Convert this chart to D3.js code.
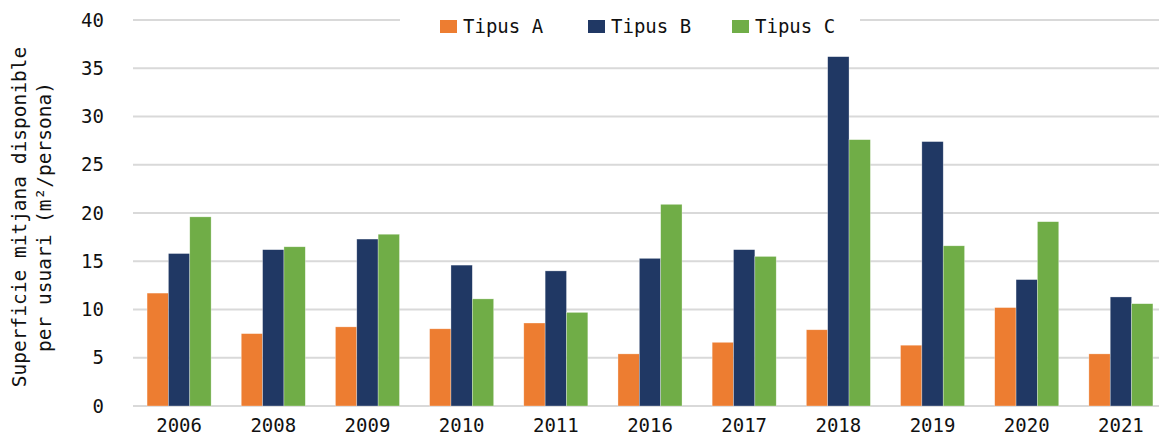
<!DOCTYPE html>
<html>
<head>
<meta charset="utf-8">
<title>Superficie mitjana disponible per usuari</title>
<style>
  body { margin: 0; background: #fff; }
  svg { display: block; font-family: "DejaVu Sans Mono", monospace; }
</style>
</head>
<body>
<div id="chart"></div>
<script src="https://d3js.org/d3.v7.min.js"></script>
<script>
// data
var years  = ["2006", "2008", "2009", "2010", "2011", "2016", "2017", "2018", "2019", "2020", "2021"];
var series = ["Tipus A", "Tipus B", "Tipus C"];
var tipusA = [11.7, 7.5, 8.2, 8.0, 8.6, 5.4, 6.6, 7.9, 6.3, 10.2, 5.4];
var tipusB = [15.8, 16.2, 17.3, 14.6, 14.0, 15.3, 16.2, 36.2, 27.4, 13.1, 11.3];
var tipusC = [19.6, 16.5, 17.8, 11.1, 9.7, 20.9, 15.5, 27.6, 16.6, 19.1, 10.6];
var yTicks = [0, 5, 10, 15, 20, 25, 30, 35, 40];
var colors = ["#ED7D31", "#203864", "#70AD47"];

var width = 1159, height = 436;
var values = [tipusA, tipusB, tipusC];

var svg = d3.select("#chart").append("svg")
    .attr("width", width)
    .attr("height", height);

var x = d3.scaleBand()
    .domain(years)
    .range([132, 1168])
    .paddingInner(0.32)
    .paddingOuter(0.16);

var xs = d3.scaleBand()
    .domain(series)
    .range([0, x.bandwidth()]);

var y = d3.scaleLinear()
    .domain([0, 40])
    .range([406, 20]);

// gridlines
svg.append("g")
    .selectAll("line")
    .data(yTicks)
    .join("line")
    .attr("x1", 133)
    .attr("x2", width)
    .attr("y1", function(d){ return y(d); })
    .attr("y2", function(d){ return y(d); })
    .attr("stroke", "#d9d9d9")
    .attr("stroke-width", 2);

// y tick labels
var yAxis = svg.append("g")
    .attr("transform", "translate(104,0)")
    .call(d3.axisLeft(y).tickValues(yTicks).tickSize(0).tickPadding(0));
yAxis.select(".domain").remove();
yAxis.selectAll("text")
    .attr("font-family", "DejaVu Sans Mono, monospace")
    .attr("font-size", 19)
    .attr("fill", "#111");

// x tick labels
var xAxis = svg.append("g")
    .attr("transform", "translate(0,414)")
    .call(d3.axisBottom(x).tickSize(0).tickPadding(5));
xAxis.select(".domain").remove();
xAxis.selectAll("text")
    .attr("font-family", "DejaVu Sans Mono, monospace")
    .attr("font-size", 19)
    .attr("fill", "#111");

// bars
var groups = svg.append("g")
    .selectAll("g")
    .data(years)
    .join("g")
    .attr("transform", function(d){ return "translate(" + x(d) + ",0)"; });

groups.selectAll("rect")
    .data(function(d, i){ return series.map(function(s, j){ return {s: s, j: j, v: values[j][i]}; }); })
    .join("rect")
    .attr("x", function(d){ return xs(d.s); })
    .attr("width", xs.bandwidth())
    .attr("y", function(d){ return y(d.v); })
    .attr("height", function(d){ return y(0) - y(d.v); })
    .attr("fill", function(d){ return colors[d.j]; })
    .attr("stroke", "#fff")
    .attr("stroke-opacity", 0.5)
    .attr("stroke-width", 0.6);

// y axis title
var title = svg.append("text")
    .attr("transform", "translate(26,217) rotate(-90)")
    .attr("text-anchor", "middle")
    .attr("font-size", 19.5)
    .attr("fill", "#111");
title.append("tspan").attr("x", 0).attr("dy", 0).text("Superficie mitjana disponible");
title.append("tspan").attr("x", 0).attr("dy", 25).text("per usuari (m\u00B2/persona)");

// legend
var legend = svg.append("g");
legend.append("rect")
    .attr("x", 400).attr("y", 8)
    .attr("width", 460).attr("height", 36)
    .attr("fill", "#fff");
var legX = [440, 588, 732];
var items = legend.selectAll("g.item")
    .data(series)
    .join("g")
    .attr("class", "item")
    .attr("transform", function(d, i){ return "translate(" + legX[i] + ",20)"; });
items.append("rect")
    .attr("width", 17).attr("height", 13)
    .attr("fill", function(d, i){ return colors[i]; });
items.append("text")
    .attr("x", 23).attr("y", 13)
    .attr("font-size", 19)
    .attr("fill", "#111")
    .text(function(d){ return d; });
</script>
</body>
</html>
